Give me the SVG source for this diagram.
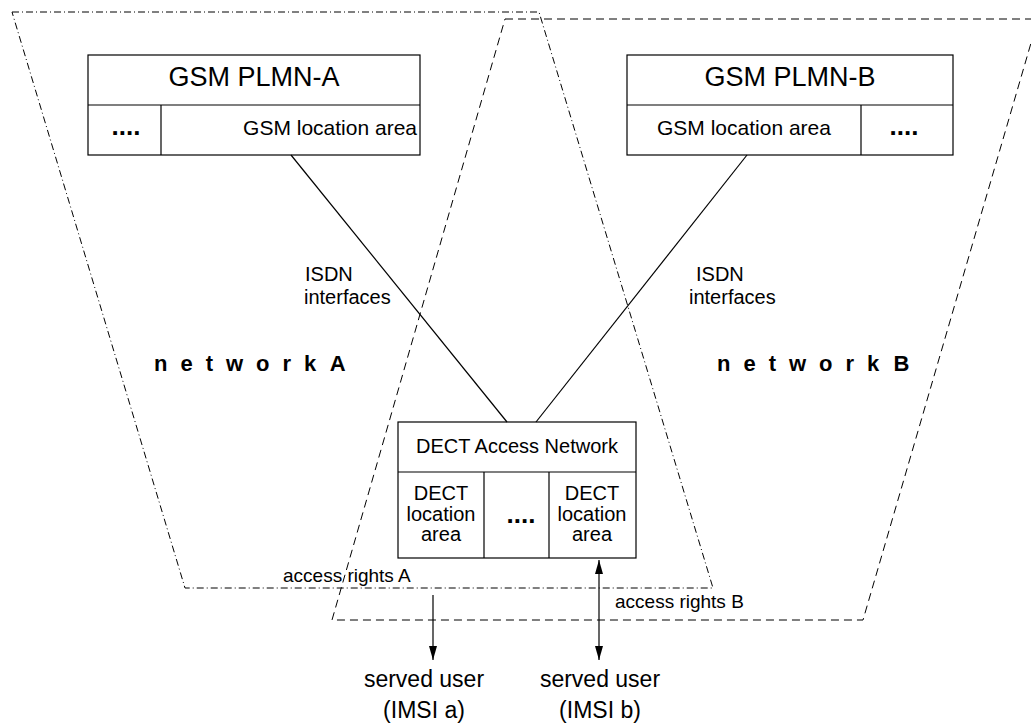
<svg xmlns="http://www.w3.org/2000/svg" width="1031" height="726" viewBox="0 0 1031 726">
<style>
.t{font-family:"Liberation Sans",Arial,sans-serif;fill:#000}
.box{fill:#fff;stroke:#000;stroke-width:1.2}
.ln{stroke:#000;stroke-width:1.2;fill:none}
.dd{stroke:#000;stroke-width:1;fill:none;stroke-dasharray:7 3 1 3}
.da{stroke:#000;stroke-width:1;fill:none;stroke-dasharray:8 5}
.net{font-weight:bold;font-size:22px;letter-spacing:13px;word-spacing:-18px}
.dots{font-weight:bold;font-size:26px}
</style>
<defs>
<marker id="ah" markerWidth="15" markerHeight="10" refX="14" refY="4" orient="auto" markerUnits="userSpaceOnUse">
<path d="M0,0 L14,4 L0,8 z" fill="#000"/>
</marker>
<marker id="ahs" markerWidth="15" markerHeight="10" refX="14" refY="4" orient="auto-start-reverse" markerUnits="userSpaceOnUse">
<path d="M0,0 L14,4 L0,8 z" fill="#000"/>
</marker>
</defs>
<g id="networkA">
<polygon class="dd" points="12,12 539,12 713,588 185,588"/>
<text class="t net" x="154" y="371">network A</text>
</g>
<g id="networkB">
<polygon class="da" points="505,19 1038,19 863,620 332,620"/>
<text class="t net" x="717" y="371">network B</text>
</g>
<g id="plmnA">
<rect class="box" x="88" y="55" width="332" height="100"/>
<line class="ln" x1="88" y1="105" x2="420" y2="105"/>
<line class="ln" x1="161" y1="105" x2="161" y2="155"/>
<text class="t" x="254" y="86" font-size="27" text-anchor="middle">GSM PLMN-A</text>
<text class="t" x="417" y="135" font-size="21" text-anchor="end">GSM location area</text>
<text class="t dots" x="126" y="135" text-anchor="middle">....</text>
</g>
<g id="plmnB">
<rect class="box" x="627" y="55" width="326" height="100"/>
<line class="ln" x1="627" y1="105" x2="953" y2="105"/>
<line class="ln" x1="861" y1="105" x2="861" y2="155"/>
<text class="t" x="790" y="86" font-size="27" text-anchor="middle">GSM PLMN-B</text>
<text class="t" x="744" y="135" font-size="21" text-anchor="middle">GSM location area</text>
<text class="t dots" x="904" y="135" text-anchor="middle">....</text>
</g>
<g id="dect">
<rect class="box" x="398" y="422" width="238" height="136"/>
<line class="ln" x1="398" y1="472" x2="636" y2="472"/>
<line class="ln" x1="484" y1="472" x2="484" y2="558"/>
<line class="ln" x1="549" y1="472" x2="549" y2="558"/>
<text class="t" x="517" y="453" font-size="20" text-anchor="middle">DECT Access Network</text>
<text class="t" x="441" font-size="20" text-anchor="middle"><tspan x="441" y="500">DECT</tspan><tspan x="441" y="521">location</tspan><tspan x="441" y="541">area</tspan></text>
<text class="t" x="592" font-size="20" text-anchor="middle"><tspan x="592" y="500">DECT</tspan><tspan x="592" y="521">location</tspan><tspan x="592" y="541">area</tspan></text>
<text class="t dots" x="521" y="523" text-anchor="middle">....</text>
</g>
<g id="userA">
<text class="t" x="424" y="687" font-size="23" text-anchor="middle">served user</text>
<text class="t" x="424" y="718" font-size="23" text-anchor="middle">(IMSI a)</text>
</g>
<g id="userB">
<text class="t" x="600" y="687" font-size="23" text-anchor="middle">served user</text>
<text class="t" x="600" y="718" font-size="23" text-anchor="middle">(IMSI b)</text>
</g>
<g id="connectors">
<line class="ln" x1="291" y1="155" x2="507" y2="422"/>
<line class="ln" x1="747" y1="155" x2="536" y2="422"/>
<line class="ln" x1="433" y1="595" x2="433" y2="660" marker-end="url(#ah)"/>
<line class="ln" x1="599" y1="560" x2="599" y2="660" marker-start="url(#ahs)" marker-end="url(#ahs)"/>
<text class="t" font-size="20"><tspan x="305" y="281">ISDN</tspan><tspan x="304" y="304">interfaces</tspan></text>
<text class="t" font-size="20"><tspan x="696" y="281">ISDN</tspan><tspan x="689" y="304">interfaces</tspan></text>
<text class="t" x="283" y="582" font-size="19">access rights A</text>
<text class="t" x="615" y="608" font-size="19">access rights B</text>
</g>
</svg>
